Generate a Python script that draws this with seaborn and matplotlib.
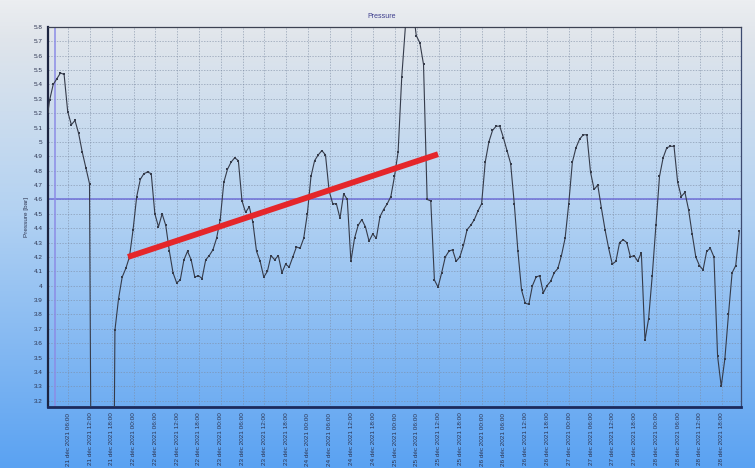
import numpy as np
import pandas as pd
import matplotlib
matplotlib.use("Agg")
import matplotlib.pyplot as plt
from matplotlib.colors import LinearSegmentedColormap
import seaborn as sns

sns.set_theme(style="white")
plt.rcParams["font.family"] = ["Liberation Sans", "DejaVu Sans"]

# --- data (bar), hourly samples ---
first_time = "2021-12-21 00:25"
first_value = 5.21
hourly_start = "2021-12-21 00:51"
pressure = [
    5.29, 5.40, 5.44, 5.48, 5.47, 5.21, 5.12, 5.15, 5.06, 4.93, 4.82, 4.71,
    0.0, 0.0, 0.0, 0.0, 0.0, 0.0,
    3.69, 3.91, 4.06, 4.12, 4.20, 4.39, 4.62, 4.74, 4.78, 4.79, 4.78, 4.50,
    4.41, 4.50, 4.42, 4.24, 4.09, 4.02, 4.04, 4.18, 4.24, 4.18, 4.06, 4.07,
    4.05, 4.18, 4.21, 4.25, 4.33, 4.46, 4.72, 4.81, 4.86, 4.89, 4.87, 4.59,
    4.51, 4.55, 4.44, 4.24, 4.17, 4.06, 4.10, 4.21, 4.18, 4.21, 4.09, 4.15,
    4.13, 4.20, 4.27, 4.26, 4.33, 4.50, 4.76, 4.87, 4.91, 4.94, 4.91, 4.66,
    4.57, 4.57, 4.47, 4.64, 4.60, 4.17, 4.33, 4.42, 4.46, 4.41, 4.31, 4.36,
    4.33, 4.48, 4.53, 4.57, 4.62, 4.76, 4.93, 5.45, 5.80, 6.00, 5.95, 5.74,
    5.69, 5.54, 4.60, 4.59, 4.04, 3.99, 4.09, 4.20, 4.24, 4.25, 4.17, 4.20,
    4.28, 4.39, 4.42, 4.46, 4.52, 4.57, 4.86, 5.00, 5.08, 5.11, 5.11, 5.03,
    4.94, 4.85, 4.57, 4.24, 3.97, 3.88, 3.87, 4.00, 4.06, 4.07, 3.95, 4.00,
    4.03, 4.09, 4.12, 4.21, 4.33, 4.57, 4.86, 4.96, 5.02, 5.05, 5.05, 4.79,
    4.67, 4.70, 4.54, 4.39, 4.26, 4.15, 4.17, 4.30, 4.32, 4.30, 4.20, 4.21,
    4.17, 4.23, 3.62, 3.77, 4.07, 4.42, 4.76, 4.89, 4.96, 4.97, 4.97, 4.72,
    4.62, 4.65, 4.53, 4.36, 4.20, 4.14, 4.11, 4.24, 4.26, 4.20, 3.51, 3.30,
    3.49, 3.80, 4.09, 4.14, 4.38,
]
mean_level = 4.6
cursor_time = "2021-12-21 02:20"
trend_times = ["2021-12-21 22:27", "2021-12-25 11:51"]
trend_values = [4.20, 4.915]
tick_start, tick_end = "2021-12-21 06:00", "2021-12-28 18:00"
x_range = ("2021-12-21 00:25", "2021-12-28 23:18")
y_range = (3.156, 5.8)
y_ticks = np.round(np.arange(3.2, 5.81, 0.1), 1)
months_fr = {12: "déc"}

times = [pd.Timestamp(first_time)] + list(
    pd.date_range(hourly_start, periods=len(pressure), freq="h"))
df = pd.DataFrame({"time": times, "pressure": [first_value] + pressure})

fig = plt.figure(figsize=(7.55, 4.68), dpi=100)

# gradient background for the whole window
bg = fig.add_axes([0, 0, 1, 1], zorder=-10)
cmap = LinearSegmentedColormap.from_list(
    "bg", [(0, "#eceef1"), (0.08, "#e0e5eb"), (0.45, "#b3d2f2"), (1, "#5aa2f3")])
bg.imshow(np.linspace(0, 1, 256).reshape(-1, 1), aspect="auto", cmap=cmap,
          extent=[0, 1, 0, 1])
bg.axis("off")

ax = fig.add_axes([48 / 755, 1 - 407 / 468, 693 / 755, 380 / 468])
ax.patch.set_alpha(0)

ax.axhline(mean_level, color="#6f6fd6", linewidth=1.1, zorder=2)
ax.axvline(pd.Timestamp(cursor_time), color="#8c8ce6", linewidth=1.1, zorder=2)

sns.lineplot(data=df, x="time", y="pressure", ax=ax, color="#353b4a",
             linewidth=0.8, marker="s", markersize=2.0, markeredgewidth=0,
             estimator=None, zorder=3)

ax.plot(pd.to_datetime(trend_times), trend_values, color="#e5262a",
        linewidth=4.2, solid_capstyle="butt", zorder=4)

ticks = pd.date_range(tick_start, tick_end, freq="6h")
ax.set_xticks(ticks)
ax.set_xticklabels([f"{t.day} {months_fr[t.month]} {t.year} {t:%H:%M}" for t in ticks],
                   rotation=90)
ax.set_yticks(y_ticks)
ax.set_yticklabels([f"{v:g}" for v in y_ticks])
ax.set_xlim(pd.Timestamp(x_range[0]), pd.Timestamp(x_range[1]))
ax.set_ylim(*y_range)

ax.grid(True, color="#7d8ca3", linestyle=(0, (2, 2)), linewidth=0.5, alpha=0.8)
ax.tick_params(axis="both", length=0, labelsize=4.6, colors="#2d3450", pad=4)
ax.set_xlabel("")
ax.set_ylabel("Pressure [bar]", fontsize=4.6, color="#2d3450")
ax.yaxis.set_label_coords(-0.027, 0.5)

for side, (col, lw) in {"left": ("#1c2440", 1.6), "bottom": ("#1c2a5c", 2.0),
                        "top": ("#3c4252", 0.9), "right": ("#3c4a70", 0.9)}.items():
    ax.spines[side].set_color(col)
    ax.spines[side].set_linewidth(lw)

fig.text(382 / 755, 1 - 17 / 468, "Pressure", ha="center", va="center",
         fontsize=5, color="#3c3c8c")

fig.savefig("out.png", dpi=100)
